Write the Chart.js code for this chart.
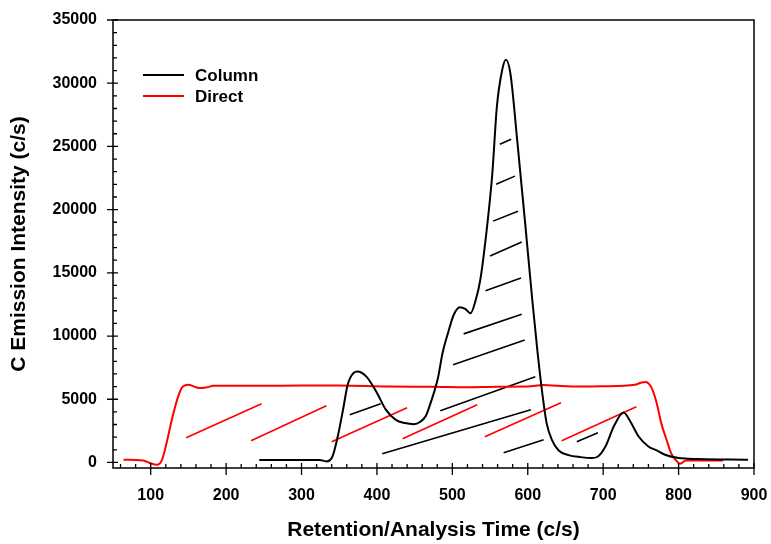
<!DOCTYPE html>
<html>
<head>
<meta charset="utf-8">
<script src="https://cdn.jsdelivr.net/npm/chart.js@4.4.1/dist/chart.umd.min.js"></script>
<style>
html,body{margin:0;padding:0;background:#fff;}
#wrap{width:771px;height:544px;position:relative;}
</style>
</head>
<body>
<div id="wrap"><canvas id="c"></canvas></div>
<script>
// ---- data ----
const seriesNames = ["Column", "Direct"];
const columnX = [244, 324, 333, 341, 348, 355, 361, 365, 369, 374, 386, 399, 412, 425, 437, 449, 457, 465, 470, 476, 481, 487, 495, 502, 510, 517, 524, 531, 537, 546, 553, 559, 566, 571, 577, 586, 597, 606, 613, 619, 625, 632, 641, 654, 670, 685, 692, 703, 714, 727, 736, 747, 760, 771, 782, 800, 826, 892];
const columnY = [200, 200, 80, 470, 2050, 4160, 6100, 6750, 7080, 7190, 6790, 5610, 4160, 3370, 3120, 3030, 3200, 3700, 4500, 5600, 6700, 8660, 10400, 11700, 12280, 12150, 11800, 12850, 14430, 18640, 22860, 28120, 31020, 31850, 30760, 25490, 18640, 12850, 8700, 5600, 3110, 1790, 950, 580, 420, 350, 430, 1260, 2840, 3950, 3240, 2050, 1260, 950, 610, 350, 270, 210];
const directX = [64, 90, 99, 108, 115, 121, 128, 135, 141, 150, 158, 165, 175, 183, 250, 300, 350, 416, 470, 520, 560, 600, 621, 640, 667, 700, 742, 750, 756, 761, 765, 771, 777, 784, 790, 796, 802, 810, 830, 859];
const directY = [210, 160, -50, -180, 210, 1530, 3370, 4950, 5880, 6140, 6000, 5880, 5950, 6060, 6060, 6080, 6080, 6000, 5990, 5950, 5990, 6000, 6130, 6060, 6000, 6020, 6140, 6300, 6360, 6200, 5800, 4690, 3110, 1790, 740, 210, -100, 160, 160, 160];
// hatch segments [x1, y1, x2, y2]
const columnHatch = [
  [364, 3770, 405, 4640],
  [407, 690, 604, 4160],
  [484, 4080, 610, 6770],
  [501, 7720, 596, 9690],
  [515, 10170, 592, 11720],
  [544, 13580, 591, 14600],
  [550, 16330, 592, 17430],
  [554, 19090, 587, 19880],
  [558, 22010, 583, 22650],
  [563, 25170, 578, 25570],
  [568, 770, 621, 1790],
  [665, 1640, 693, 2350]
];
const directHatch = [
  [147, 1950, 247, 4640],
  [233, 1710, 333, 4480],
  [340, 1640, 440, 4320],
  [434, 1870, 533, 4560],
  [543, 2030, 644, 4720],
  [645, 1710, 744, 4400]
];
const xTicks = [100, 200, 300, 400, 500, 600, 700, 800, 900];
const yTicks = [0, 5000, 10000, 15000, 20000, 25000, 30000, 35000];
const xMinorStep = 20;
const yMinorStep = 1000;
const xTitle = "Retention/Analysis Time (c/s)";
const yTitle = "C Emission Intensity (c/s)";

// ---- build ----
function pts(xs, ys){ return xs.map((x,i)=>({x:x, y:ys[i]})); }
function segPts(segs){
  const out = [];
  segs.forEach(s=>{ out.push({x:s[0],y:s[1]}); out.push({x:s[2],y:s[3]}); out.push({x:s[2],y:null}); });
  return out;
}
const FONT = "'Liberation Sans', Arial, Helvetica, sans-serif";

const frame = {
  id: 'frame',
  afterDraw(chart){
    const ctx = chart.ctx, a = chart.chartArea;
    const xs = chart.scales.x, ys = chart.scales.y;
    ctx.save();
    ctx.strokeStyle = '#000';
    ctx.lineWidth = 1.5;
    ctx.strokeRect(a.left, a.top, a.right - a.left, a.bottom - a.top);
    ctx.lineWidth = 1.3;
    ctx.beginPath();
    for (let v = 60; v <= 900; v += xMinorStep){
      const p = xs.getPixelForValue(v);
      if (xTicks.includes(v)) { ctx.moveTo(p, a.bottom - 5); ctx.lineTo(p, a.bottom + 7); }
      else { ctx.moveTo(p, a.bottom - 4); ctx.lineTo(p, a.bottom); }
    }
    for (let v = 0; v <= 35000; v += yMinorStep){
      const p = ys.getPixelForValue(v);
      if (yTicks.includes(v)) { ctx.moveTo(a.left - 6, p); ctx.lineTo(a.left + 5, p); }
      else { ctx.moveTo(a.left, p); ctx.lineTo(a.left + 4, p); }
    }
    ctx.stroke();
    const items = [{t: seriesNames[0], c:'#000', y: 75}, {t: seriesNames[1], c:'#ff0000', y: 96}];
    items.forEach(it=>{
      ctx.strokeStyle = it.c; ctx.lineWidth = 2;
      ctx.beginPath(); ctx.moveTo(143, it.y); ctx.lineTo(184, it.y); ctx.stroke();
      ctx.fillStyle = '#000';
      ctx.font = "bold 17px " + FONT;
      ctx.textBaseline = 'middle'; ctx.textAlign = 'left';
      ctx.fillText(it.t, 195, it.y + 1);
    });
    ctx.restore();
  }
};

new Chart(document.getElementById('c'), {
  type: 'line',
  data: {
    datasets: [
      { label: seriesNames[0], data: pts(columnX, columnY), borderColor: '#000', borderWidth: 2, pointRadius: 0, cubicInterpolationMode: 'monotone', fill: false },
      { label: seriesNames[1], data: pts(directX, directY), borderColor: '#ff0000', borderWidth: 2, pointRadius: 0, cubicInterpolationMode: 'monotone', fill: false },
      { label: 'hatchC', data: segPts(columnHatch), borderColor: '#000', borderWidth: 1.6, pointRadius: 0, tension: 0, spanGaps: false },
      { label: 'hatchD', data: segPts(directHatch), borderColor: '#ff0000', borderWidth: 1.6, pointRadius: 0, tension: 0, spanGaps: false }
    ]
  },
  options: {
    responsive: true,
    maintainAspectRatio: false,
    animation: false,
    devicePixelRatio: 1,
    layout: { padding: { left: 0, right: 17, top: 20, bottom: 0 } },
    plugins: { legend: { display: false }, tooltip: { enabled: false } },
    scales: {
      x: {
        type: 'linear', min: 50, max: 900,
        afterBuildTicks(s){ s.ticks = xTicks.map(v=>({value:v})); },
        afterFit(s){ s.height = 76; s.paddingLeft = 0; s.paddingRight = 0; },
        grid: { display: false, drawTicks: false },
        border: { display: false },
        ticks: { color: '#000', font: { family: FONT, size: 16, weight: 'bold' }, padding: 18, maxRotation: 0, autoSkip: false },
        title: { display: true, text: xTitle, color: '#000', font: { family: FONT, size: 21, weight: 'bold' }, padding: { top: 0, bottom: 1 } }
      },
      y: {
        type: 'linear', min: -440, max: 35000,
        afterBuildTicks(s){ s.ticks = yTicks.map(v=>({value:v})); },
        afterFit(s){ s.width = 113; s.paddingTop = 0; s.paddingBottom = 0; },
        grid: { display: false, drawTicks: false },
        border: { display: false },
        ticks: { color: '#000', font: { family: FONT, size: 16, weight: 'bold' }, padding: 16, autoSkip: false, callback: v => String(v) },
        title: { display: true, text: yTitle, color: '#000', font: { family: FONT, size: 21, weight: 'bold' }, padding: { top: 7, bottom: 0 } }
      }
    }
  },
  plugins: [frame]
});
</script>
</body>
</html>
